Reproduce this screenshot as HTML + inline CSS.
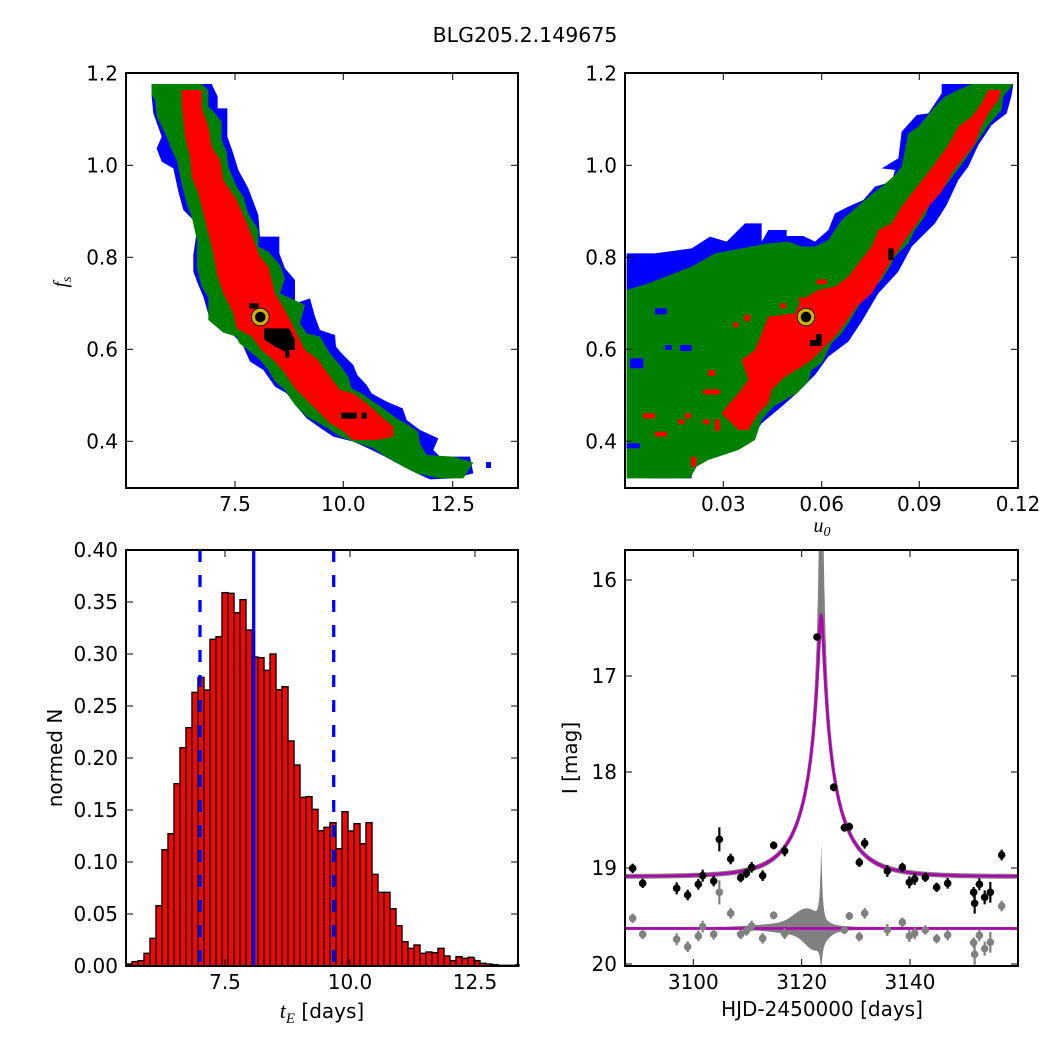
<!DOCTYPE html>
<html><head><meta charset="utf-8">
<style>
html,body{margin:0;padding:0;background:#fff;}
svg{display:block;font-family:"DejaVu Sans","Liberation Sans",sans-serif;}
.t{font-size:20px;fill:#000;}
</style></head><body>
<svg id="s" width="1050" height="1050" viewBox="0 0 1050 1050" xmlns="http://www.w3.org/2000/svg">
<defs>
<clipPath id="c1"><rect x="126" y="73" width="392" height="415"/></clipPath>
<clipPath id="c2"><rect x="625" y="73" width="393" height="415"/></clipPath>
<clipPath id="c4"><rect x="625" y="550" width="393" height="416"/></clipPath>
</defs>
<rect width="1050" height="1050" fill="#fff"/>
<text x="525" y="42" text-anchor="middle" style="font-size:20.5px">BLG205.2.149675</text>

<!-- top-left -->
<g clip-path="url(#c1)">
<g transform="translate(120,60) scale(0.33333)">
<polygon fill="#0000ff" points="95,72 275,72 293,110 293,145 322,145 322,230 338,275 355,330 385,385 415,465 420,530 478,530 478,580 495,625 525,660 525,730 570,715 585,770 600,810 645,825 648,860 665,880 700,915 712,945 740,975 755,1000 800,1025 848,1045 860,1080 900,1110 955,1135 940,1170 960,1190 1050,1190 1060,1240 1000,1255 930,1258 890,1240 850,1220 795,1190 745,1165 700,1145 640,1130 610,1110 560,1075 530,1040 500,1000 465,980 430,930 390,905 370,860 350,835 310,800 270,780 250,710 235,675 220,635 220,585 230,515 220,480 190,450 175,395 160,325 125,305 110,265 125,230 100,160 95,110"/>
<rect x="1098" y="1206" width="15" height="18" fill="#0000ff"/>
<polygon fill="#008000" points="95,72 245,72 265,90 265,140 285,160 305,185 305,240 320,275 325,320 350,380 370,410 385,460 415,510 415,560 445,575 480,615 495,655 480,700 555,735 540,790 560,820 600,830 630,880 660,915 685,950 695,985 725,1000 760,1025 790,1045 830,1075 865,1095 895,1115 900,1150 920,1185 1000,1190 1060,1208 1030,1255 960,1255 890,1240 850,1220 790,1185 760,1165 700,1145 660,1130 615,1100 560,1070 525,1035 495,990 465,965 445,930 420,900 390,875 358,850 350,830 310,818 265,780 265,712 245,680 230,620 232,545 215,470 200,430 185,370 170,300 155,270 140,230 125,200 110,170 105,120 95,105"/>
<polygon fill="#ff0000" points="185,90 245,90 245,145 265,200 275,260 300,300 310,360 350,420 385,500 420,590 445,620 465,700 500,760 525,810 555,870 590,895 630,950 660,990 700,1000 740,1030 790,1075 820,1100 820,1130 770,1140 700,1140 665,1110 630,1090 575,1035 525,985 495,940 465,905 425,870 395,830 350,805 340,760 310,700 290,640 280,580 265,520 250,460 235,400 215,350 210,290 195,230 190,180 185,130"/>
<rect x="388" y="730" width="28" height="16" fill="#000"/>
<polygon fill="#000" points="432,805 508,805 525,840 525,870 508,870 508,893 495,893 495,875 465,860 432,838"/>
<rect x="663" y="1058" width="47" height="18" fill="#000"/>
<rect x="725" y="1058" width="16" height="18" fill="#000"/>
</g>
</g>
<circle cx="260.3" cy="317" r="7" fill="#000" stroke="#c8b400" stroke-width="3.5"/>
<circle cx="260.3" cy="317" r="8.8" fill="none" stroke="#000" stroke-width="0.8"/>

<!-- top-right -->
<g clip-path="url(#c2)">
<g transform="translate(615,60) scale(0.33333)">
<polygon fill="#0000ff" points="35,580 120,580 230,565 285,530 335,545 390,490 440,490 440,545 460,510 515,510 515,528 565,528 600,545 640,510 660,460 700,440 745,420 780,380 830,365 840,330 800,325 850,295 860,215 905,165 940,160 980,100 980,72 1195,72 1190,105 1175,160 1130,195 1090,255 1060,320 1030,360 995,435 960,490 890,560 850,635 790,700 740,785 700,845 640,890 600,945 545,1000 500,1040 440,1090 400,1150 35,1150"/>
<rect x="35" y="1150" width="50" height="20" fill="#0000ff"/>
<rect x="100" y="1225" width="80" height="30" fill="#0000ff"/>
<rect x="190" y="1225" width="40" height="30" fill="#0000ff"/>
<polygon fill="#008000" points="35,690 100,670 230,620 300,580 380,565 460,550 520,545 560,560 600,560 640,540 680,480 750,420 780,395 800,380 840,345 860,320 870,270 880,220 910,200 960,140 990,110 1030,90 1070,72 1195,72 1165,110 1160,150 1120,195 1090,240 1070,270 1050,300 1020,340 990,380 950,420 930,470 900,510 880,550 840,590 825,620 800,660 760,700 730,740 700,790 680,820 650,850 620,910 590,930 580,965 545,1000 510,1020 475,1040 440,1080 420,1140 370,1170 280,1200 245,1220 225,1255 35,1255"/>
<rect x="35" y="1150" width="40" height="15" fill="#0000ff"/>
<rect x="150" y="855" width="20" height="15" fill="#0000ff"/>
<rect x="195" y="855" width="35" height="18" fill="#0000ff"/>
<rect x="45" y="895" width="40" height="30" fill="#0000ff"/>
<rect x="120" y="745" width="35" height="18" fill="#0000ff"/>
<polygon fill="#ff0000" points="380,900 420,870 440,820 460,770 540,760 560,720 610,690 660,680 700,650 730,610 770,560 790,510 830,490 860,440 890,400 930,350 960,310 1000,255 1030,200 1070,170 1100,130 1120,90 1158,90 1150,120 1120,160 1095,210 1080,250 1050,290 1010,340 980,395 940,440 910,485 870,540 830,600 800,650 770,700 725,740 690,790 660,830 620,870 590,900 560,920 510,950 470,990 460,1030 430,1060 400,1110 370,1110 340,1080 320,1060 335,1040 370,1000 400,960 390,930"/>
<g fill="#ff0000">
<rect x="85" y="1060" width="35" height="15"/><rect x="120" y="1115" width="35" height="15"/>
<rect x="265" y="988" width="50" height="15"/><rect x="280" y="930" width="20" height="18"/>
<rect x="228" y="1190" width="16" height="30"/><rect x="355" y="787" width="15" height="15"/>
<rect x="388" y="765" width="18" height="18"/><rect x="605" y="658" width="30" height="15"/>
<rect x="495" y="730" width="18" height="15"/><rect x="190" y="1078" width="18" height="15"/>
<rect x="265" y="1078" width="18" height="15"/><rect x="210" y="1060" width="18" height="15"/>
<rect x="300" y="1078" width="15" height="35"/><rect x="552" y="712" width="15" height="18"/>
</g>
<rect x="820" y="565" width="16" height="35" fill="#000"/>
<rect x="585" y="840" width="35" height="18" fill="#000"/>
<rect x="603" y="822" width="17" height="20" fill="#000"/>
</g>
</g>
<circle cx="806" cy="317" r="7" fill="#000" stroke="#c8b400" stroke-width="3.5"/>
<circle cx="806" cy="317" r="8.8" fill="none" stroke="#000" stroke-width="0.8"/>

<g id="hist"></g>
<line x1="200" y1="550" x2="200" y2="966" stroke="#0000ff" stroke-width="3.3" stroke-dasharray="12,13"/>
<line x1="333.7" y1="550" x2="333.7" y2="966" stroke="#0000ff" stroke-width="3.3" stroke-dasharray="12,13"/>
<line x1="253.7" y1="550" x2="253.7" y2="966" stroke="#0000ff" stroke-width="3.3"/>

<g id="lc" clip-path="url(#c4)"></g>

<!-- frames -->
<g fill="none" stroke="#000" stroke-width="2">
<rect x="126" y="73" width="392" height="415"/>
<rect x="625" y="73" width="393" height="415"/>
<rect x="126" y="550" width="392" height="416"/>
<rect x="625" y="550" width="393" height="416"/>
</g>
<g id="ticks" stroke="#000" stroke-width="1"></g>
<g id="labels" class="t"></g>

<text x="322" y="1018" text-anchor="middle" style="font-size:20px"><tspan font-family="Liberation Serif, serif" font-style="italic" font-size="22">t</tspan><tspan font-family="Liberation Serif, serif" font-style="italic" font-size="15" dy="5">E</tspan><tspan dy="-5"> [days]</tspan></text>
<text x="822" y="1016" text-anchor="middle" style="font-size:20px">HJD-2450000 [days]</text>
<text x="822" y="532" text-anchor="middle" font-family="Liberation Serif, serif" font-style="italic" font-size="20">u<tspan font-size="14" dy="4">0</tspan></text>
<text transform="translate(67,282) rotate(-90)" text-anchor="middle" font-family="Liberation Serif, serif" font-style="italic" font-size="20">f<tspan font-size="14" dy="4">s</tspan></text>
<text transform="translate(62,758) rotate(-90)" text-anchor="middle" style="font-size:20px">normed N</text>
<text transform="translate(577,758) rotate(-90)" text-anchor="middle" style="font-size:20px">I [mag]</text>
</svg>
<script>
var NS="http://www.w3.org/2000/svg";
function el(p,n,a,txt){var e=document.createElementNS(NS,n);for(var k in a)e.setAttribute(k,a[k]);if(txt!==undefined)e.textContent=txt;p.appendChild(e);return e;}
var tops=[1272,1265,1262,1240,1195,1097,929,881,731,623,563,457,412,450,298,290,158,160,218,179,270,351,353,391,342,449,440,603,675,772,770,808,872,862,848,926,815,873,851,911,848,1003,1057,1057,1106,1157,1205,1225,1215,1240,1236,1238,1225,1248,1262,1250,1255,1252,1262,1270,1272,1274,1276,1276,1276,1274];
var h=document.getElementById('hist');
for(var i=0;i<tops.length;i++){var y=540+tops[i]/3;var w=(i==65)?3:6;
el(h,'rect',{x:126+6*i,y:y,width:w,height:966-y,fill:'#ff0000',stroke:'#000','stroke-width':1.4});}
var lc=document.getElementById('lc');
function X(t){return 693.3+(t-3100)*5.42;}
function Y(m){return 580+(m-16)*96;}
var t0=3123.6,tE=8.1,fs=0.67,m0=19.09;
function mag(t,u0){var tau=(t-t0)/tE;var u=Math.sqrt(u0*u0+tau*tau);var A=(u*u+2)/(u*Math.sqrt(u*u+4));return m0-2.5*Math.log10(fs*A+1-fs);}
var up=[],lo=[],mg=[];
for(var t=3087;t<=3161;t+=0.02){up.push(X(t).toFixed(1)+','+Y(mag(t,0.02)-0.01).toFixed(1));lo.push(X(t).toFixed(1)+','+Y(mag(t,0.06)+0.01).toFixed(1));mg.push(X(t).toFixed(1)+','+Y(mag(t,0.056)).toFixed(1));}
el(lc,'polygon',{points:up.concat(lo.slice().reverse()).join(' '),fill:'#808080',stroke:'#808080','stroke-width':3});
var ru=[],rl=[];
for(var t=3087;t<=3161;t+=0.02){var d=t-t0;
var a=0.78*Math.exp(-Math.abs(d)/0.25)+0.16*Math.exp(-Math.pow((t-3121)/3.2,2))+0.04*Math.exp(-Math.pow((t-3118)/8,2))+0.015;
var b=0.28*Math.exp(-Math.abs(d)/0.25)+0.17*Math.exp(-Math.pow((t-3122.5)/2.5,2))+0.05*Math.exp(-Math.pow((t-3120)/6,2))+0.015;
ru.push(X(t).toFixed(1)+','+Y(19.63-a).toFixed(1));rl.push(X(t).toFixed(1)+','+Y(19.63+b).toFixed(1));}
el(lc,'polygon',{points:ru.concat(rl.reverse()).join(' '),fill:'#808080'});
el(lc,'polyline',{points:mg.join(' '),fill:'none',stroke:'#b000b0','stroke-width':2.6});
el(lc,'line',{x1:625,y1:Y(19.63),x2:1018,y2:Y(19.63),stroke:'#b000b0','stroke-width':2.6});
var blk=[[38,325,8],[68,370,8],[170,385,12],[203,405,10],[235,373,10],[248,347,12],[281,363,10],[298,238,30],[332,297,10],[362,353,8],[379,340,8],[395,322,10],[428,347,10],[461,256,6],[494,273,10],[641,82,6],[673,203,6],[688,200,6],[718,307,8],[734,250,10],[802,333,12],[847,322,8],[868,367,12],[884,357,12],[916,352,8],[950,382,8],[983,370,10],[1061,397,10],[1064,430,25],[1078,373,12],[1094,412,15],[1111,397,25],[1145,285,10]];
var gry=[[38,475],[68,523],[170,538],[203,560],[235,528],[248,500],[281,523],[298,397],[332,460],[362,523],[379,513],[395,498],[428,535],[461,466],[494,521],[673,510],[688,468],[718,530],[734,460],[802,510],[847,487],[868,528],[884,520],[916,510],[950,536],[983,525],[1061,548],[1064,583],[1078,526],[1094,566],[1111,547],[1145,438]];
for(var i=0;i<gry.length;i++){var x=620+gry[i][0]/3,y=760+gry[i][1]/3,e=blk[i<15?i:i+1][2]/3+2;
el(lc,'line',{x1:x,y1:y-e,x2:x,y2:y+e,stroke:'#808080','stroke-width':2.2});el(lc,'circle',{cx:x,cy:y,r:3.8,fill:'#808080'});}
for(var i=0;i<blk.length;i++){var x=620+blk[i][0]/3,y=760+blk[i][1]/3,e=blk[i][2]/3+2;
el(lc,'line',{x1:x,y1:y-e,x2:x,y2:y+e,stroke:'#000','stroke-width':2.2});el(lc,'circle',{cx:x,cy:y,r:3.8,fill:'#000'});}
el(lc,'circle',{cx:817,cy:637,r:3.8,fill:'#000'});
var tk=document.getElementById('ticks'),lb=document.getElementById('labels');
function xt(x,y0,y1,lab){el(tk,'line',{x1:x,y1:y1,x2:x,y2:y1-7});el(tk,'line',{x1:x,y1:y0,x2:x,y2:y0+7});if(lab)el(lb,'text',{x:x,y:y1+23,'text-anchor':'middle'},lab);}
function yt(y,x0,x1,lab){el(tk,'line',{x1:x0,y1:y,x2:x0+7,y2:y});el(tk,'line',{x1:x1,y1:y,x2:x1-7,y2:y});if(lab)el(lb,'text',{x:x0-8,y:y+7,'text-anchor':'end'},lab);}
[[235,'7.5'],[343.3,'10.0'],[452.7,'12.5']].forEach(function(a){xt(a[0],73,488,a[1]);});
[[723.3,'0.03'],[821.7,'0.06'],[919.3,'0.09'],[1018,'0.12']].forEach(function(a){xt(a[0],73,488,a[1]);});
['1.2','1.0','0.8','0.6','0.4'].forEach(function(l,i){var y=73.3+i*92;yt(y,126,518,l);yt(y,625,1018,l);});
[[225,'7.5'],[350,'10.0'],[475,'12.5']].forEach(function(a){xt(a[0],550,966,a[1]);});
for(var i=0;i<=8;i++){var v=i*0.05;yt(966-v*1040,126,518,v.toFixed(2));}
[[693.3,'3100'],[801.7,'3120'],[910,'3140']].forEach(function(a){xt(a[0],550,966,a[1]);});
[16,17,18,19,20].forEach(function(m){yt(Y(m),625,1018,String(m));});
</script>
</body></html>
